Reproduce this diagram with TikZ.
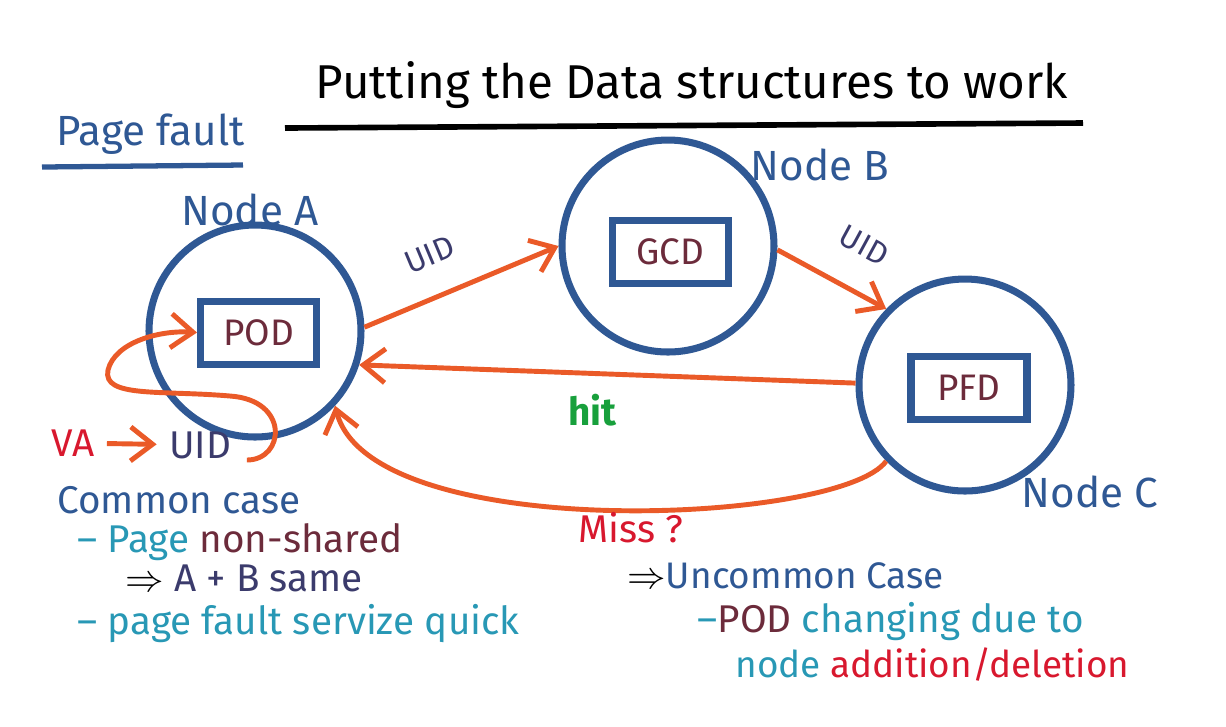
\documentclass[tikz,border=0pt]{standalone}
\usepackage{fontspec}
\setmainfont{Fira Sans}
\usetikzlibrary{arrows.meta}
\definecolor{circBlue}{HTML}{2F5894}
\definecolor{arrOrange}{HTML}{EA5A28}
\definecolor{podRed}{HTML}{6C2B3B}
\definecolor{uidNavy}{HTML}{3B3B6C}
\definecolor{noteTeal}{HTML}{2898B5}
\definecolor{missRed}{HTML}{D8182E}
\definecolor{hitGreen}{HTML}{18A03C}

\begin{document}
\begin{tikzpicture}[>={Straight Barb[length=2.2mm,width=3.4mm]},font=\fontsize{11}{13}\selectfont]
  \useasboundingbox (0,0) rectangle (12.26,-7.26);
  \tikzset{
    site/.style={draw=circBlue,line width=2pt,circle,minimum size=2.12cm},
    table/.style={draw=circBlue,line width=2pt,minimum width=1.16cm,minimum height=0.63cm,text=podRed,font=\fontsize{10.5}{12}\selectfont},
    link/.style={->,arrOrange,line width=1.4pt},
    sitelabel/.style={text=circBlue,font=\fontsize{12}{14}\selectfont},
    msg/.style={sloped,inner sep=0pt,text=uidNavy,font=\small},
    note/.style={anchor=west,inner sep=0.5pt,text height=0.75em,text depth=0.2em}
  }
  % title and heading
  \node[font=\fontsize{13.5}{16}\selectfont] (title) at (6.92,-0.85) {Putting the Data structures to work};
  \draw[line width=1.6pt] (2.85,-1.28) -- (10.83,-1.23);
  \node[anchor=west,text=circBlue,font=\fontsize{12}{14}\selectfont] (pf) at (0.44,-1.34) {Page fault};
  \draw[circBlue,line width=1.5pt] (0.42,-1.67) -- (2.43,-1.65);

  % the three nodes
  \node[site] (nodeA) at (2.55,-3.31) {};
  \node[table] (pod) at (2.585,-3.325) {POD};
  \node[sitelabel] (labA) at (2.50,-2.10) {Node A};
  \node[site] (nodeB) at (6.68,-2.46) {};
  \node[table] (gcd) at (6.705,-2.515) {GCD};
  \node[sitelabel] (labB) at (8.20,-1.65) {Node B};
  \node[site] (nodeC) at (9.65,-3.85) {};
  \node[table] (pfd) at (9.69,-3.875) {PFD};
  \node[sitelabel] (labC) at (10.90,-4.92) {Node C};

  % messages between nodes
  \draw[link] (nodeA.2) -- node[msg,pos=0.42,above=8pt] {UID} (nodeB.180);
  \draw[link] (nodeB.-2) -- node[msg,pos=0.6,above=9pt] {UID} (nodeC.136);
  \draw[link] (nodeC.179) -- node[pos=0.53,below=2pt,text=hitGreen,font=\bfseries\fontsize{11}{13}\selectfont] {hit} (nodeA.-18);
  \draw[link] (nodeC.224) .. controls (8.4,-5.25) and (3.7,-5.45) .. (nodeA.-43);
  \node[note,text=missRed] (miss) at (5.76,-5.33) {Miss ?};

  % local lookup
  \node[text=missRed] (va) at (0.73,-4.43) {VA};
  \node[text=uidNavy] (uidA) at (2.00,-4.45) {UID};
  \draw[link] (va) -- (uidA);
  \draw[link] ([xshift=1pt,yshift=-1.5mm]uidA.east) .. controls (2.85,-4.6) and (2.9,-4.0) .. (2.3,-3.96)
    .. controls (1.6,-3.9) and (1.02,-3.98) .. (1.08,-3.7) .. controls (1.15,-3.42) and (1.6,-3.3) .. (pod.west);

  % notes
  \node[note,text=circBlue] (common) at (0.55,-5.04) {Common case};
  \node[note,text=noteTeal] (n1) at (0.75,-5.43) {-- Page \textcolor{podRed}{non-shared}};
  \node[note,text=uidNavy] (n2) at (1.23,-5.82) {\textcolor{black}{$\Rightarrow$} A + B same};
  \node[note,text=noteTeal] (n3) at (0.75,-6.25) {-- page fault servize quick};
  \node[note,text=circBlue,font=\fontsize{10.5}{12}\selectfont] (uncommon) at (6.25,-5.79) {\textcolor{black}{$\Rightarrow$}Uncommon Case};
  \node[note,text=noteTeal] (n4) at (6.95,-6.23) {--\textcolor{podRed}{POD} changing due to};
  \node[note,text=noteTeal,font=\fontsize{10.5}{12}\selectfont] (n5) at (7.33,-6.68) {node \textcolor{missRed}{addition/deletion}};
\end{tikzpicture}
\end{document}
